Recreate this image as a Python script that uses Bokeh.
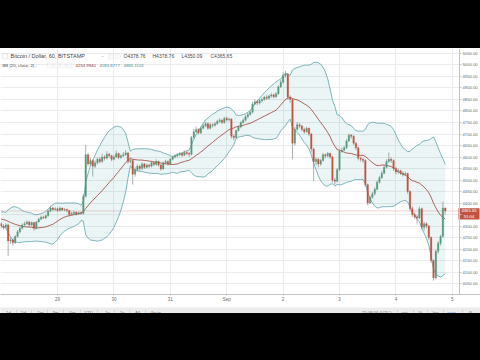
import numpy as np
import pandas as pd
from bokeh.plotting import figure
from bokeh.models import (FixedTicker, PrintfTickFormatter, Label, Span, Div,
                          Range1d, BoxAnnotation)
from bokeh.core.properties import value
from bokeh.layouts import column
from bokeh.embed import file_html
from bokeh.resources import INLINE

# ---------------- data ----------------
symbol_title = "Bitcoin / Dollar, 60, BITSTAMP"
ohlc_labels = ["O4378.76", "H4378.76", "L4350.09", "C4365.65"]
bb_title = "BB (20, close, 2)"
bb_values = ["4234.9940", "4583.8777", "4886.1103"]

first_open = 4310
closes = [4300, 4295, 4305, 4235, 4240, 4228, 4255, 4275, 4290, 4305,
          4310, 4318, 4305, 4315, 4290, 4318, 4330, 4338, 4335, 4345,
          4365, 4378, 4372, 4375, 4368, 4378, 4370, 4372, 4368, 4350,
          4355, 4360, 4352, 4358, 4355, 4430, 4610, 4570, 4585, 4560,
          4575, 4590, 4580, 4600, 4595, 4612, 4605, 4590, 4600, 4615,
          4598, 4605, 4610, 4618, 4580, 4585, 4525, 4545, 4560, 4550,
          4570, 4555, 4565, 4560, 4575, 4568, 4580, 4565, 4548, 4575,
          4580, 4570, 4590, 4600, 4605, 4610, 4615, 4608, 4620, 4615,
          4612, 4685, 4710, 4720, 4705, 4725, 4735, 4745, 4725, 4740,
          4738, 4745, 4755, 4760, 4750, 4768, 4762, 4765, 4690, 4685,
          4715, 4730, 4750, 4760, 4775, 4785, 4795, 4830, 4840, 4835,
          4845, 4850, 4860, 4855, 4865, 4870, 4862, 4875, 4905, 4925,
          4955, 4960, 4860, 4850, 4660, 4720, 4740, 4735, 4720, 4710,
          4725, 4700, 4635, 4580, 4590, 4570, 4585, 4610, 4605, 4615,
          4600, 4500, 4495, 4545, 4625, 4630, 4640, 4670, 4695, 4690,
          4660, 4640, 4595, 4590, 4585, 4480, 4400, 4425, 4440, 4460,
          4490, 4510, 4530, 4555, 4580, 4590, 4585, 4550, 4535, 4540,
          4530, 4525, 4528, 4450, 4375, 4350, 4340, 4335, 4375, 4295,
          4310, 4300, 4250, 4150, 4075, 4190, 4225, 4255, 4378.76, 4365.65]
highs = [4318, 4308, 4312, 4310, 4252, 4246, 4260, 4282, 4296, 4312,
         4320, 4325, 4322, 4320, 4318, 4322, 4336, 4345, 4344, 4350,
         4372, 4388, 4384, 4382, 4380, 4385, 4381, 4378, 4376, 4370,
         4362, 4366, 4364, 4363, 4362, 4440, 4653, 4618, 4595, 4590,
         4585, 4598, 4600, 4615, 4608, 4625, 4618, 4610, 4608, 4628,
         4620, 4612, 4622, 4630, 4622, 4596, 4590, 4555, 4568, 4566,
         4578, 4575, 4572, 4570, 4582, 4580, 4590, 4585, 4570, 4580,
         4588, 4585, 4596, 4606, 4612, 4618, 4622, 4620, 4628, 4625,
         4622, 4692, 4722, 4732, 4725, 4732, 4745, 4752, 4750, 4748,
         4746, 4752, 4762, 4770, 4765, 4775, 4775, 4772, 4768, 4698,
         4720, 4738, 4756, 4768, 4782, 4792, 4802, 4840, 4850, 4848,
         4852, 4858, 4866, 4868, 4872, 4878, 4876, 4882, 4912, 4935,
         4968, 4975, 4965, 4868, 4855, 4730, 4752, 4748, 4740, 4728,
         4732, 4728, 4705, 4640, 4598, 4595, 4592, 4618, 4615, 4622,
         4620, 4605, 4510, 4552, 4632, 4640, 4648, 4678, 4702, 4700,
         4695, 4665, 4645, 4602, 4596, 4590, 4485, 4432, 4448, 4468,
         4498, 4518, 4540, 4565, 4590, 4620, 4598, 4590, 4558, 4550,
         4545, 4538, 4536, 4532, 4455, 4385, 4358, 4348, 4385, 4380,
         4318, 4316, 4305, 4255, 4155, 4198, 4235, 4262, 4407, 4378.76]
lows = [4290, 4285, 4290, 4170, 4222, 4215, 4222, 4250, 4268, 4285,
        4300, 4305, 4298, 4300, 4280, 4285, 4315, 4326, 4330, 4330,
        4340, 4360, 4366, 4366, 4362, 4364, 4365, 4364, 4360, 4342,
        4346, 4350, 4345, 4348, 4348, 4350, 4425, 4560, 4562, 4515,
        4552, 4568, 4572, 4575, 4585, 4590, 4598, 4582, 4585, 4595,
        4590, 4592, 4600, 4605, 4570, 4572, 4480, 4515, 4538, 4540,
        4545, 4548, 4550, 4552, 4555, 4560, 4562, 4558, 4540, 4545,
        4568, 4562, 4566, 4585, 4595, 4598, 4605, 4600, 4605, 4608,
        4600, 4608, 4680, 4705, 4698, 4700, 4720, 4730, 4718, 4720,
        4728, 4732, 4740, 4748, 4742, 4745, 4755, 4755, 4680, 4672,
        4680, 4710, 4725, 4745, 4755, 4768, 4780, 4790, 4825, 4825,
        4828, 4838, 4845, 4848, 4850, 4858, 4855, 4858, 4870, 4900,
        4920, 4945, 4850, 4835, 4590, 4650, 4715, 4725, 4712, 4700,
        4705, 4690, 4620, 4495, 4565, 4555, 4562, 4580, 4595, 4598,
        4592, 4490, 4480, 4490, 4540, 4618, 4625, 4635, 4665, 4680,
        4652, 4630, 4585, 4580, 4575, 4470, 4390, 4395, 4418, 4432,
        4455, 4485, 4505, 4525, 4550, 4575, 4575, 4540, 4525, 4528,
        4522, 4515, 4518, 4440, 4365, 4340, 4330, 4310, 4330, 4285,
        4280, 4290, 4240, 4140, 4063, 4068, 4180, 4215, 4250, 4350.09]
# closes of the 19 hours before the visible window (estimated from the band widths)
prior_closes = [4345, 4352, 4340, 4330, 4318, 4325, 4338, 4350, 4358, 4345,
                4335, 4322, 4330, 4340, 4328, 4315, 4320, 4310, 4305]

day_ticks = [24, 48, 72, 96, 120, 144, 168, 192]          # hours since 28 Aug 00:00
day_labels = ["29", "30", "31", "Sep", "2", "3", "4", "5"]
price_ticks = [4050, 4100, 4150, 4200, 4250, 4300, 4350, 4400, 4450, 4500, 4550,
               4600, 4650, 4700, 4750, 4800, 4850, 4900, 4950, 5000, 5050]
hidden_tick = 4350          # covered by the last-price tag
last_price = 4365.65
countdown = "51:04"
range_buttons = ["1d", "5d", "1m", "3m", "6m", "YTD", "1y", "5y", "All", "Go to..."]
status_items = ["22:08:56 (UTC)", "ext", "%", "log", "auto"]

# ---------------- styling / layout helpers ----------------
UP = "#54997a"
DOWN = "#c2533f"
WICK = "#7a7a7a"
FONT = "Liberation Sans"

PX_PER_H = 2.35
X_OFF = 0.6
SCALE_X = 459          # pixel column of the price scale line


def X(px):
    return (px - X_OFF) / PX_PER_H


def Y(py):
    return 4050 + (285 - py) * 50 / 11.6


PX_Y = 50 / 11.6       # price per pixel

n = len(closes)
idx = np.arange(n)
c = np.array(closes, dtype=float)
o = np.array([first_open] + closes[:-1], dtype=float)
h = np.array(highs, dtype=float)
l = np.array(lows, dtype=float)
up = c >= o

s = pd.Series(prior_closes + closes, dtype=float)
k = len(prior_closes)
basis = s.rolling(20).mean().to_numpy()[k:]
sd = s.rolling(20).std(ddof=0).to_numpy()[k:]
upper = basis + 2 * sd
lower = basis - 2 * sd

p = figure(width=480, height=256, output_backend="svg", toolbar_location=None,
           x_range=Range1d(X(0), X(480)), y_range=Range1d(Y(296), Y(48)),
           y_axis_location="right",
           min_border_left=0, min_border_top=0, min_border_right=0,
           min_border_bottom=8, margin=0)
p.background_fill_color = "white"
p.border_fill_color = "white"
p.outline_line_color = None

# grid
p.xgrid.ticker = FixedTicker(ticks=day_ticks)
p.ygrid.ticker = FixedTicker(ticks=price_ticks)
p.grid.grid_line_color = "#ebebeb"
p.grid.grid_line_width = 1

# axes
p.yaxis.ticker = FixedTicker(ticks=price_ticks)
p.yaxis.formatter = PrintfTickFormatter(format="%.2f")
p.yaxis.major_label_overrides = {hidden_tick: ""}
p.yaxis.fixed_location = X(SCALE_X)
p.xaxis.ticker = FixedTicker(ticks=day_ticks)
p.xaxis.major_label_overrides = {t: lab for t, lab in zip(day_ticks, day_labels)}
for ax in (p.xaxis[0], p.yaxis[0]):
    ax.axis_line_color = "#c4c4c4"
    ax.major_tick_line_color = "#c4c4c4"
    ax.minor_tick_line_color = None
    ax.major_tick_in = 0
    ax.major_label_text_color = "#6a6a6a"
    ax.major_label_text_font = FONT
p.yaxis.major_tick_out = 2
p.yaxis.major_label_standoff = 1
p.yaxis.major_label_text_font_size = "4.2px"
p.xaxis.major_tick_out = 1
p.xaxis.major_label_standoff = 1
p.xaxis.major_label_text_font_size = "4.5px"

# last price line (under the candles)
p.add_layout(Span(location=last_price, dimension="width", line_color=DOWN,
                  line_dash="1 1", line_width=0.6, line_alpha=0.8,
                  level="underlay"))

# Bollinger bands
p.varea(x=idx, y1=lower, y2=upper, fill_color="#1f9090", fill_alpha=0.09)
p.line(idx, upper, line_color="#5fa3ab", line_width=0.8)
p.line(idx, lower, line_color="#5fa3ab", line_width=0.8)
p.line(idx, basis, line_color="#a03e36", line_width=0.8)

# candles
p.segment(x0=idx, y0=h, x1=idx, y1=l, line_color=WICK, line_width=0.6)
colors = [UP if u else DOWN for u in up]
p.vbar(x=idx, width=0.64, top=np.maximum(o, c), bottom=np.minimum(o, c),
       fill_color=colors, line_color=colors, line_width=0.3)

# price-scale background (white strip right of the scale line)
p.quad(left=[X(SCALE_X)], right=[X(481)], bottom=[Y(300)], top=[Y(44)],
       fill_color="white", line_color=None)

# last price tag on the price scale
p.quad(left=[X(SCALE_X - 1)], right=[X(479)],
       top=[last_price + 2.8 * PX_Y], bottom=[last_price - 8.6 * PX_Y],
       fill_color=DOWN, line_color=None)
p.text(x=[X(468.5), X(468.5)], y=[last_price, last_price - 5.6 * PX_Y],
       text=[f"{last_price:.2f}", countdown], text_align="center",
       text_baseline="middle", text_font_size="4.2px", text_color="white",
       text_font=value(FONT))

# legend texts
p.add_layout(BoxAnnotation(left=X(2), right=X(7), top=Y(53.5), bottom=Y(58.5),
                           fill_color=None, line_color="#9a9a9a", line_width=0.6))
p.add_layout(Label(x=X(10), y=Y(56), text=symbol_title, text_font=FONT,
                   text_font_size="5.5px", text_color="#3f3f3f",
                   text_baseline="middle"))
p.add_layout(Label(x=X(101), y=Y(56), text="-", text_font=FONT,
                   text_font_size="5.5px", text_color="#777",
                   text_baseline="middle"))
for lx in (108, 115):
    p.add_layout(BoxAnnotation(left=X(lx), right=X(lx + 5), top=Y(53.5),
                               bottom=Y(58.5), fill_color="#f4f4f4",
                               line_color="#c8c8c8", line_width=0.6))
for j, txt in enumerate(ohlc_labels):
    p.add_layout(Label(x=X(123 + 29 * j), y=Y(56), text=txt, text_font=FONT,
                       text_font_size="5px", text_color="#4a4a4a",
                       text_baseline="middle"))

p.add_layout(Label(x=X(2), y=Y(65), text=bb_title + " -", text_font=FONT,
                   text_font_size="4.3px", text_color="#4a4a4a",
                   text_baseline="middle"))
for lx in (47, 53.5, 60, 66.5):
    p.add_layout(BoxAnnotation(left=X(lx), right=X(lx + 5), top=Y(62.5),
                               bottom=Y(67.5), fill_color="#f4f4f4",
                               line_color="#c8c8c8", line_width=0.6))
for txt, lx, col in zip(bb_values, (75, 99, 123), ("#8a3a32", "#3f8f95", "#3f8f95")):
    p.add_layout(Label(x=X(lx), y=Y(65), text=txt, text_font=FONT,
                       text_font_size="4.3px", text_color=col,
                       text_baseline="middle"))

# ---------------- bottom tool strip ----------------
STRIP_H = 9
t = figure(width=480, height=STRIP_H, output_backend="svg", toolbar_location=None,
           x_range=Range1d(0, 480), y_range=Range1d(0, STRIP_H),
           x_axis_type=None, y_axis_type=None, min_border=0, margin=0)
t.background_fill_color = "#ececec"
t.border_fill_color = "#ececec"
t.outline_line_color = None
t.grid.visible = False
ym = STRIP_H / 2
btn_x = [8, 23, 40, 55, 72, 88, 107, 122, 137, 157]
sep_x = [16, 31, 47, 63, 80, 97, 114, 129, 145]
st_x = [376, 404, 420, 435, 451]
st_col = ["#707070", "#707070", "#707070", "#707070", "#3d8fd6"]
sep2 = [397, 413, 427, 443, 462]
for txt, xx in zip(range_buttons, btn_x):
    t.add_layout(Label(x=xx, y=ym, text=txt, text_align="center",
                       text_baseline="middle", text_font_size="4.3px",
                       text_color="#707070", text_font=FONT))
for txt, xx, col in zip(status_items, st_x, st_col):
    t.add_layout(Label(x=xx, y=ym, text=txt, text_align="center",
                       text_baseline="middle", text_font_size="4.3px",
                       text_color=col, text_font=FONT))
t.segment(x0=sep_x + sep2, y0=[2.2] * (len(sep_x) + len(sep2)),
          x1=sep_x + sep2, y1=[6.8] * (len(sep_x) + len(sep2)),
          line_color="#c8c8c8", line_width=0.6)
t.add_layout(Label(x=470, y=ym, text="\u2699", text_align="center",
                   text_baseline="middle", text_font_size="4.3px",
                   text_color="#808080", text_font="DejaVu Sans"))

top_bar = Div(text="", width=480, height=48, margin=0,
              styles={"background-color": "#000"})
bottom_bar = Div(text="", width=480, height=360 - 48 - 256 - STRIP_H, margin=0,
                 styles={"background-color": "#000"})

layout = column(top_bar, p, t, bottom_bar, spacing=0, margin=0)
open("out.html", "w").write(file_html(layout, INLINE))
